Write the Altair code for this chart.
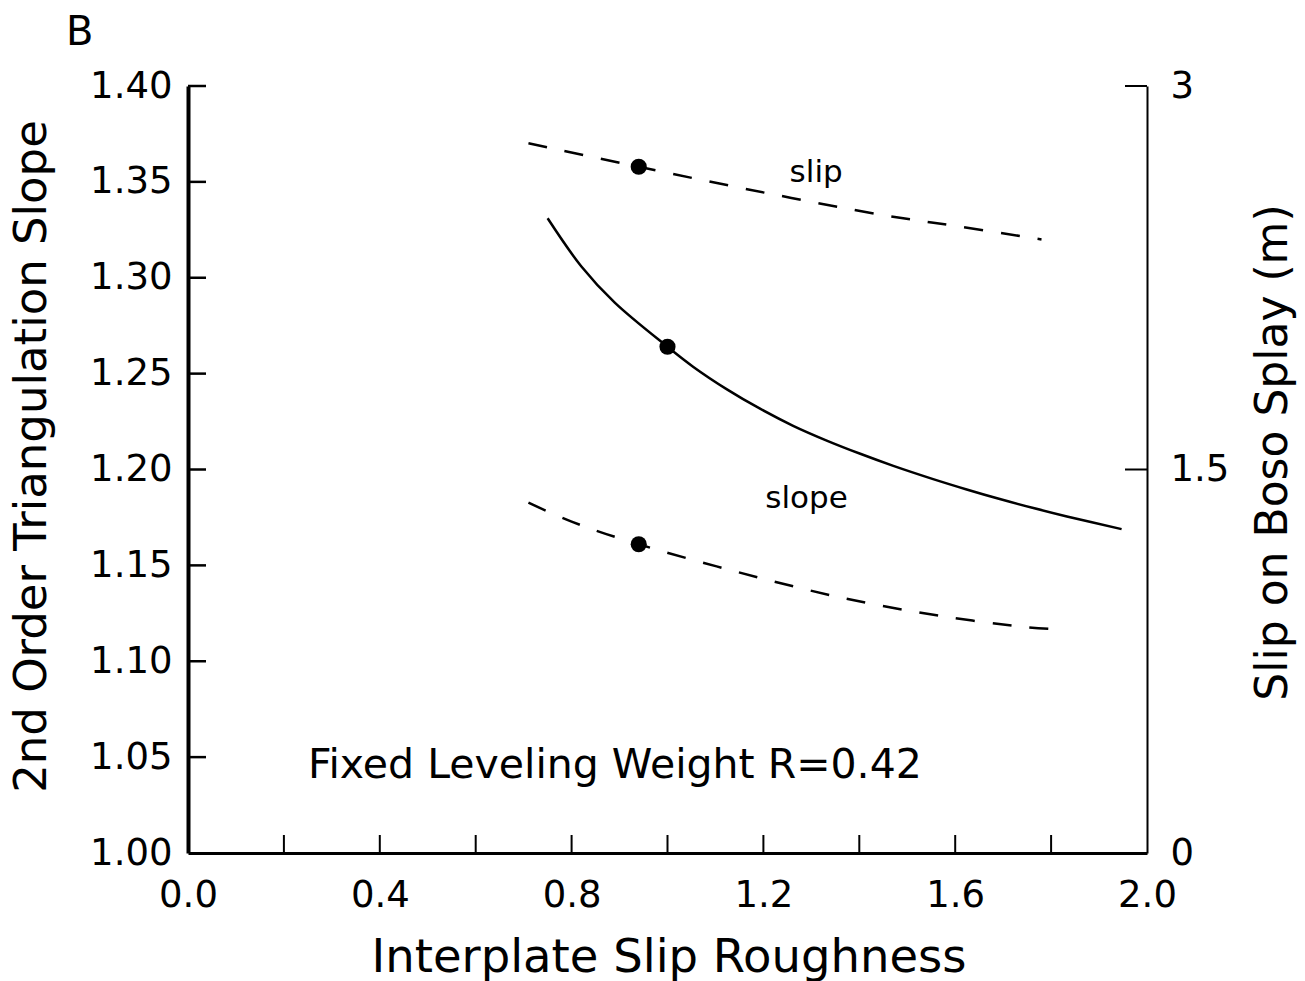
import altair as alt
import pandas as pd

# Second-order triangulation slope vs. interplate slip roughness (solid curve)
rough_solid = [0.75, 0.82, 0.89, 1.00, 1.054, 1.124, 1.193, 1.262, 1.332, 1.402,
               1.471, 1.554, 1.624, 1.693, 1.763, 1.833, 1.947]
slope_solid = [1.331, 1.306, 1.287, 1.264, 1.2535, 1.2418, 1.2317, 1.2228, 1.2151, 1.2082,
               1.2019, 1.1950, 1.1896, 1.1846, 1.1799, 1.1755, 1.1689]

# Lower dashed curve (left axis)
rough_lower = [0.71, 0.80, 0.94, 1.26, 1.42, 1.58, 1.74, 1.80]
slope_lower = [1.1827, 1.1728, 1.161, 1.1392, 1.1302, 1.1232, 1.118, 1.1168]

# Slip on the Boso splay fault (upper dashed curve, right axis)
rough_slip = [0.71, 0.94, 1.21, 1.45, 1.61, 1.78]
slip_boso = [2.776, 2.684, 2.580, 2.495, 2.450, 2.400]

# Preferred solutions
dot_rough = [1.00, 0.94]
dot_slope = [1.264, 1.161]
dot_slip_rough = [0.94]
dot_slip = [2.684]

# Axis ticks and labels
rough_labels = [0.0, 0.4, 0.8, 1.2, 1.6, 2.0]
rough_ticks = [0.2, 0.4, 0.6, 0.8, 1.0, 1.2, 1.4, 1.6, 1.8]
slope_labels = [1.00, 1.05, 1.10, 1.15, 1.20, 1.25, 1.30, 1.35, 1.40]
slope_ticks = [1.05, 1.10, 1.15, 1.20, 1.25, 1.30, 1.35, 1.40]
slip_labels = [0, 1.5, 3]
slip_ticks = [1.5, 3.0]

# Annotations
notes = pd.DataFrame({
    "r": [1.31, 1.29],
    "slope": [1.35, 1.18],
    "label": ["slip", "slope"],
})
caption = pd.DataFrame({"r": [0.25], "slope": [1.039], "label": ["Fixed Leveling Weight R=0.42"]})
panel = pd.DataFrame({"label": ["B"]})

W, H = 959, 767
FONT = "DejaVu Sans"

x_scale = alt.Scale(domain=[0, 2], nice=False, zero=False)
slope_scale = alt.Scale(domain=[1.0, 1.4], nice=False, zero=False)
slip_scale = alt.Scale(domain=[0, 3], nice=False, zero=False)

x_axis = alt.Axis(
    values=rough_labels, format=".1f", ticks=False, domainWidth=3,
    labelPadding=24, labelFlush=False, orient="bottom",
    title="Interplate Slip Roughness", titleX=W / 2 + 1, titleY=118,
    titleBaseline="alphabetic", titleFontSize=46.5,
)
slope_axis = alt.Axis(
    values=slope_labels, format=".2f", ticks=False, domainWidth=4,
    labelPadding=16, orient="left",
    title="2nd Order Triangulation Slope", titleX=-143, titleY=370,
    titleAngle=270, titleBaseline="alphabetic",
)
slip_axis = alt.Axis(
    values=slip_labels, format=".2~g", ticks=False, domainWidth=2, orient="right",
    labelPadding=23, labelAlign="left",
    title="Slip on Boso Splay (m)", titleX=139, titleY=366,
    titleAngle=270, titleBaseline="alphabetic", titleFontSize=44,
)

X = alt.X("r:Q", scale=x_scale, axis=x_axis)
YL = alt.Y("slope:Q", scale=slope_scale, axis=slope_axis)
YR = alt.Y("slip:Q", scale=slip_scale, axis=slip_axis)

solid = alt.Chart(pd.DataFrame({"r": rough_solid, "slope": slope_solid})).mark_line(
    color="black", strokeWidth=2.5, interpolate="catmull-rom"
).encode(x=X, y=YL)

lower = alt.Chart(pd.DataFrame({"r": rough_lower, "slope": slope_lower})).mark_line(
    color="black", strokeWidth=2.5, interpolate="catmull-rom", strokeDash=[19, 18]
).encode(x=X, y=YL)

dots = alt.Chart(pd.DataFrame({"r": dot_rough, "slope": dot_slope})).mark_circle(
    color="black", size=260, opacity=1
).encode(x=X, y=YL)

left_ticks = alt.Chart(pd.DataFrame({"slope": slope_ticks})).mark_rule(
    color="black", strokeWidth=2.5
).encode(y=YL, x=alt.value(0), x2=alt.value(18))

bottom_ticks = alt.Chart(pd.DataFrame({"r": rough_ticks})).mark_rule(
    color="black", strokeWidth=2
).encode(x=X, y=alt.value(H), y2=alt.value(H - 18))

note_text = alt.Chart(notes).mark_text(
    font=FONT, fontSize=31, align="center", baseline="alphabetic", color="black"
).encode(x=X, y=YL, text="label:N")

caption_text = alt.Chart(caption).mark_text(
    font=FONT, fontSize=41, align="left", baseline="alphabetic", color="black"
).encode(x=X, y=YL, text="label:N")

panel_text = alt.Chart(panel).mark_text(
    font=FONT, fontSize=40, align="left", baseline="alphabetic", color="black"
).encode(x=alt.value(-122), y=alt.value(-41), text="label:N")

slip_line = alt.Chart(pd.DataFrame({"r": rough_slip, "slip": slip_boso})).mark_line(
    color="black", strokeWidth=2.5, interpolate="catmull-rom", strokeDash=[19, 18]
).encode(x=X, y=YR)

slip_dot = alt.Chart(pd.DataFrame({"r": dot_slip_rough, "slip": dot_slip})).mark_circle(
    color="black", size=260, opacity=1
).encode(x=X, y=YR)

right_ticks = alt.Chart(pd.DataFrame({"slip": slip_ticks})).mark_rule(
    color="black", strokeWidth=2
).encode(y=YR, x=alt.value(W - 22), x2=alt.value(W))

left_layer = alt.layer(solid, lower, dots, left_ticks, bottom_ticks,
                       note_text, caption_text, panel_text)
right_layer = alt.layer(slip_line, slip_dot, right_ticks)

chart = alt.layer(left_layer, right_layer).resolve_scale(
    y="independent"
).properties(
    width=W, height=H,
    autosize=alt.AutoSizeParams(type="none"),
    padding={"left": 188, "top": 86, "right": 158, "bottom": 128},
    background="white",
).configure_view(
    stroke=None
).configure_axis(
    labelFont=FONT, labelFontSize=37, labelColor="black",
    titleFont=FONT, titleFontSize=45, titleFontWeight="normal", titleColor="black",
    domainColor="black", grid=False, labelOverlap=False,
)

chart.save("out.html", embed_options={"renderer": "svg", "actions": False})
